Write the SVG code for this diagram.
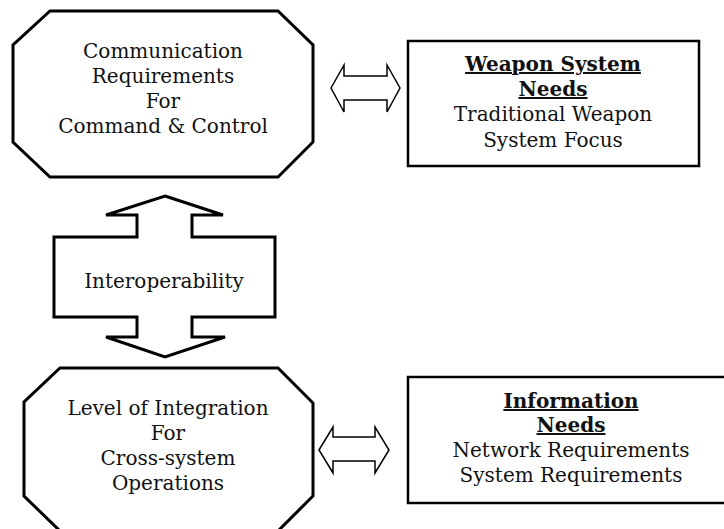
<svg xmlns="http://www.w3.org/2000/svg" width="724" height="529" viewBox="0 0 724 529">
<style>
.oct{fill:#fff;stroke:#000;stroke-width:3;stroke-linejoin:miter}
.box{fill:#fff;stroke:#000;stroke-width:2.5}
.arr{fill:#fff;stroke:#000;stroke-width:1.5;stroke-linejoin:miter}
.big{fill:#fff;stroke:#000;stroke-width:3;stroke-linejoin:miter}
text{font-family:"DejaVu Serif","Liberation Serif",serif;font-size:20px;fill:#111;text-anchor:middle}
.b{font-weight:bold;text-decoration:underline}
</style>
<rect width="724" height="529" fill="#fff"/>
<g id="comm">
<polygon class="oct" points="50,11 278,11 313,45 313,142 278,177 50,177 13,142 13,45"/>
<text x="163" y="58">Communication</text>
<text x="163" y="83">Requirements</text>
<text x="163" y="108">For</text>
<text x="163" y="133">Command &amp; Control</text>
</g>
<g id="weapon">
<rect class="box" x="408" y="41" width="291" height="125"/>
<text class="b" x="553" y="71">Weapon System</text>
<text class="b" x="553" y="96">Needs</text>
<text x="553" y="121">Traditional Weapon</text>
<text x="553" y="147">System Focus</text>
</g>
<g id="interop">
<polygon class="big" points="165,196 223,215 192,215 192,237 275,237 275,317 192,317 192,337 225,337 165,357 106,337 137,337 137,317 54,317 54,237 137,237 137,215 106,215"/>
<text x="164" y="288">Interoperability</text>
</g>
<g id="level">
<polygon class="oct" points="60,368 278,368 313,403 313,496 278,531 60,531 24,496 24,402"/>
<text x="168" y="415">Level of Integration</text>
<text x="168" y="440">For</text>
<text x="168" y="465">Cross-system</text>
<text x="168" y="490">Operations</text>
</g>
<g id="info">
<rect class="box" x="408" y="377" width="330" height="126"/>
<text class="b" x="571" y="408">Information</text>
<text class="b" x="571" y="432">Needs</text>
<text x="571" y="457">Network Requirements</text>
<text x="571" y="482">System Requirements</text>
</g>
<g id="connectors">
<polygon class="arr" points="331,88 344,65 344,76 387,76 387,65 400,88 387,112 387,100 344,100 344,112"/>
<polygon class="arr" points="319,450 333,427 333,437 375,437 375,427 389,450 375,473 375,461 333,461 333,473"/>
</g>
</svg>
